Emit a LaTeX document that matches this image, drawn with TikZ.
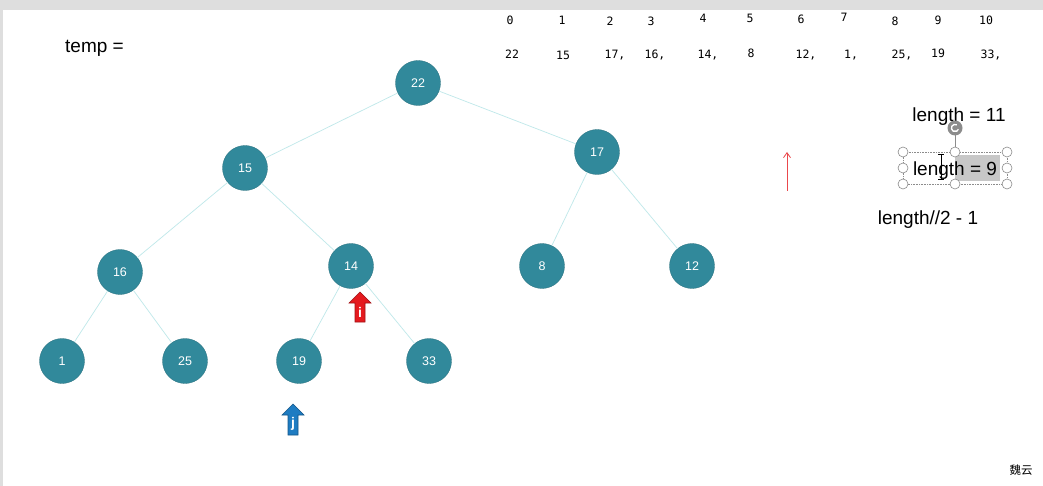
\documentclass[tikz,border=0pt]{standalone}
\usepackage{fontspec}
\usetikzlibrary{arrows.meta}
\setmainfont{Liberation Sans}
\newfontfamily\monof{DejaVu Sans Mono}
\newfontfamily\cjkf{Noto Sans CJK SC}
\definecolor{teal1}{HTML}{31899B}
\definecolor{edgec}{HTML}{BFE8EA}
\definecolor{redA}{HTML}{E51A1F}
\definecolor{blueA}{HTML}{1E7CC2}
\definecolor{bar}{HTML}{DEDEDE}
\definecolor{handle}{HTML}{8C8C8C}
\begin{document}
\begin{tikzpicture}[x=1pt,y=-1pt,
  tn/.style={circle,fill=teal1,draw=teal1!80!black,line width=0.3pt,minimum size=45pt,inner sep=0pt,text=white,font=\fontsize{12.5}{14}\selectfont},
  tedge/.style={draw=edgec,line width=0.7pt},
  mono/.style={font=\monof\fontsize{11.5}{13}\selectfont,anchor=base,inner sep=0pt},
  lbl/.style={font=\fontsize{19}{22}\selectfont,inner sep=0pt},
  hnd/.style={circle,draw=handle,fill=white,line width=0.6pt,minimum size=10pt,inner sep=0pt}]
\useasboundingbox (0,0) rectangle (1043,486);
\fill[white] (0,0) rectangle (1043,486);
\fill[bar] (0,0) rectangle (1043,10);
\fill[bar] (0,0) rectangle (3,486);
% tree nodes
\node[tn] (n22) at (418,83) {22};
\node[tn] (n15) at (245,168) {15};
\node[tn] (n17) at (597,152) {17};
\node[tn] (n16) at (120,272) {16};
\node[tn] (n14) at (351,266) {14};
\node[tn] (n8) at (542,266) {8};
\node[tn] (n12) at (692,266) {12};
\node[tn] (n1) at (62,361) {1};
\node[tn] (n25) at (185,361) {25};
\node[tn] (n19) at (299,361) {19};
\node[tn] (n33) at (429,361) {33};
\draw[tedge] (n22) -- (n15);
\draw[tedge] (n22) -- (n17);
\draw[tedge] (n15) -- (n16);
\draw[tedge] (n15) -- (n14);
\draw[tedge] (n17) -- (n8);
\draw[tedge] (n17) -- (n12);
\draw[tedge] (n16) -- (n1);
\draw[tedge] (n16) -- (n25);
\draw[tedge] (n14) -- (n19);
\draw[tedge] (n14) -- (n33);
% array
\foreach \x/\t/\yy in {510/0/25,562/1/25,610/2/26,651/3/26,703/4/23,750/5/23,801/6/24,844/7/22,895/8/26,938/9/25,986/10/25}
  \node[mono] at (\x,\yy) {\t};
\foreach \x/\t/\yy in {512/22/59,563/15/60,615/{17,}/59,655/{16,}/59,708/{14,}/59,751/8/58,806/{12,}/59,851/{1,}/59,902/{25,}/59,938/19/58,991/{33,}/59}
  \node[mono] at (\x,\yy) {\t};
% labels
\node[lbl,anchor=west] (temp) at (65,48) {temp =};
\node[lbl] (len11) at (959,117) {length = 11};
% selection box
\fill[black!22] (955,155) rectangle (1000,181);
\draw[handle,densely dotted,line width=0.6pt] (903,152) rectangle (1007,184);
\node[lbl] (len9) at (955,171) {length = 9};
\draw[handle,line width=0.8pt] (955,128) -- (955,152);
\node[circle,fill=handle,minimum size=15pt,inner sep=0pt] (rot) at (955,128) {};
\draw[white,line width=1.3pt] (rot.center) ++(60:3.6pt) arc (60:340:3.6pt);
\foreach \p in {(903,152),(955,152),(1007,152),(903,168),(1007,168),(903,184),(955,184),(1007,184)}
  \node[hnd] at \p {};
\draw[black,line width=0.9pt] (941,154) -- (941,179) (938,154) -- (944,154) (938,179) -- (944,179);
\node[lbl] (half) at (928,220) {length//2 - 1};
% thin red arrow
\coordinate (ra1) at (787,191);
\coordinate (ra2) at (787,152);
\draw[redA!80,line width=0.8pt,-{Straight Barb[length=5pt,width=7pt]}] (ra1) -- (ra2);
% block arrows
\draw[fill=redA,draw=redA!70!black,line width=0.6pt] (355,322) -- (355,303) -- (349,303) -- (360,292) -- (371,303) -- (365,303) -- (365,322) -- cycle;
\node[text=white,font=\bfseries\fontsize{14}{14}\selectfont,inner sep=0pt] (ilab) at (360,312) {i};
\draw[fill=blueA,draw=blueA!70!black,line width=0.6pt] (288,435) -- (288,415) -- (282,415) -- (293,404) -- (304,415) -- (298,415) -- (298,435) -- cycle;
\node[text=white,font=\bfseries\fontsize{14}{14}\selectfont,inner sep=0pt] (jlab) at (293,424) {j};
% watermark
\node[font=\cjkf\fontsize{11.5}{12}\selectfont,inner sep=0pt] (wm) at (1021,470) {魏云};
\end{tikzpicture}
\end{document}
